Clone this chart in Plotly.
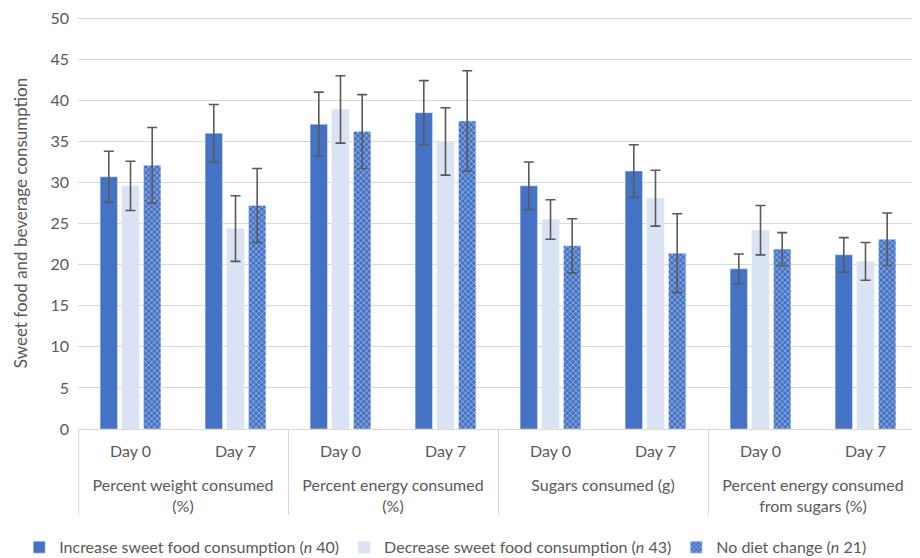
import plotly.graph_objects as go

# Data
groups = ["<br>Percent weight consumed<br>(%)", "<br>Percent energy consumed<br>(%)",
          "<br>Sugars consumed (g)", "<br>Percent energy consumed<br>from sugars (%)"]
days = ["Day 0", "Day 7"]

increase = [30.7, 36.0, 37.1, 38.5, 29.6, 31.4, 19.5, 21.2]
increase_err = [3.1, 3.5, 3.9, 3.9, 2.9, 3.2, 1.8, 2.1]
decrease = [29.6, 24.4, 38.9, 35.0, 25.5, 28.1, 24.2, 20.4]
decrease_err = [3.0, 4.0, 4.1, 4.1, 2.4, 3.4, 3.0, 2.3]
nochange = [32.1, 27.2, 36.2, 37.5, 22.3, 21.4, 21.9, 23.1]
nochange_err = [4.6, 4.5, 4.5, 6.1, 3.3, 4.8, 2.0, 3.2]
y_ticks = [0, 5, 10, 15, 20, 25, 30, 35, 40, 45, 50]

x = [[g for g in groups for _ in days], days * len(groups)]

err_style = dict(type="data", color="#595959", thickness=1.6, width=5)

fig = go.Figure()
fig.add_trace(go.Bar(
    name="Increase sweet food consumption (<i>n</i> 40)", x=x, y=increase,
    marker_color="#4472C4",
    error_y=dict(array=increase_err, **err_style)))
fig.add_trace(go.Bar(
    name="Decrease sweet food consumption (<i>n</i> 43)", x=x, y=decrease,
    marker_color="#DAE3F3",
    error_y=dict(array=decrease_err, **err_style)))
fig.add_trace(go.Bar(
    name="No diet change (<i>n</i> 21)", x=x, y=nochange,
    marker=dict(color="#4472C4",
                pattern=dict(shape="x", size=4, solidity=0.35,
                             fgcolor="white", bgcolor="#4472C4")),
    error_y=dict(array=nochange_err, **err_style)))

# page body has an 8px margin, so the figure is a bit smaller than the window
fig.update_layout(
    width=912, height=550,
    margin=dict(l=70, r=2, t=9, b=129, autoexpand=False),
    paper_bgcolor="white", plot_bgcolor="white",
    font=dict(family="Lato", size=16, color="#595959"),
    barmode="group", bargap=0.38, bargroupgap=0.2,
    showlegend=True,
    legend=dict(orientation="h", x=-0.07, xanchor="left", y=-0.287, yanchor="middle",
                font=dict(size=16), itemwidth=30, traceorder="normal",
                tracegroupgap=0),
)
fig.update_yaxes(range=[0, 50.15], tickmode="array", tickvals=y_ticks,
                 gridcolor="#D9D9D9", gridwidth=1, ticklabeloverflow="allow",
                 showline=False, zeroline=False, automargin=False,
                 title=dict(text="Sweet food and beverage consumption", standoff=18,
                            font=dict(size=17)),
                 ticklabelstandoff=8, tickfont=dict(size=16))
fig.update_xaxes(type="multicategory", showline=True, linecolor="#D9D9D9",
                 showdividers=True, dividercolor="#D9D9D9", dividerwidth=1,
                 automargin=False, ticklabelstandoff=8, tickfont=dict(size=16))

fig.write_html("out.html")
